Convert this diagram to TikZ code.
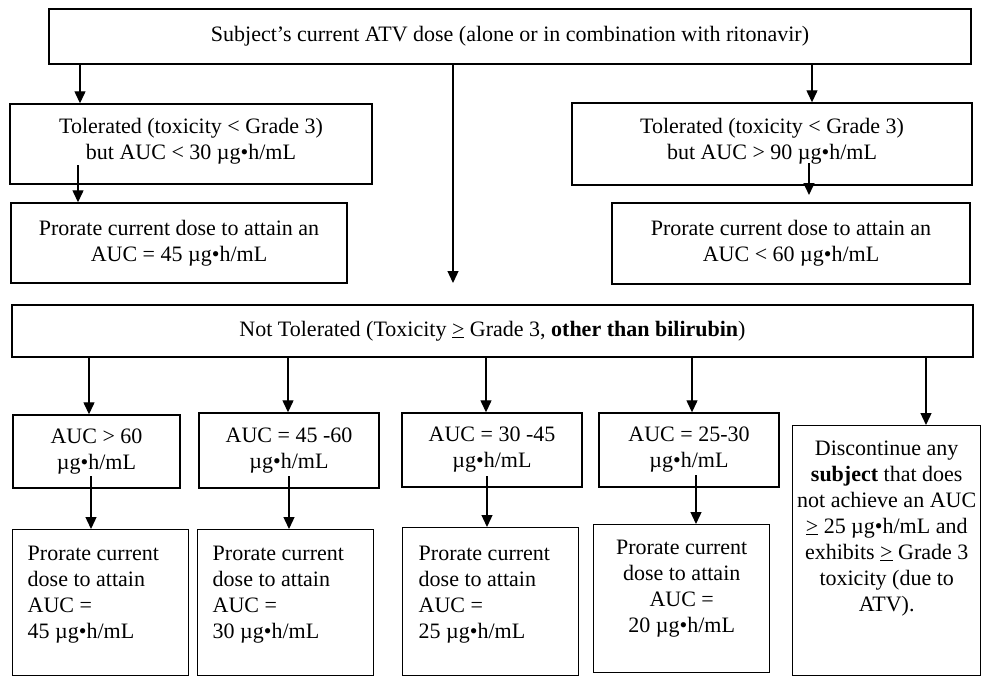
\documentclass[tikz,border=0pt]{standalone}
\usepackage{fontspec}
\setmainfont{Liberation Serif}
\usetikzlibrary{arrows.meta}
\newcommand\myfs{\fontsize{22}{26}\selectfont}
\begin{document}
\begin{tikzpicture}[x=1pt,y=-1pt,
  box/.style={draw, line width=1.4pt, inner sep=0pt, align=center, font=\myfs},
  pbox/.style={draw, line width=1.4pt, inner sep=0pt, font=\myfs, anchor=north west},
  arr/.style={line width=1.3pt, -{Triangle[length=12pt,width=11pt]}},
]
\useasboundingbox[fill=white] (0,0) rectangle (985,677);

% boxes
\node[box, minimum width=922pt, minimum height=55pt] (top) at (510,36.5)
  {Subject’s current ATV dose (alone or in combination with ritonavir)};
\node[box, minimum width=362pt, minimum height=80pt, text depth=10pt] (tolL) at (191,144)
  {Tolerated (toxicity < Grade 3)\\but AUC < 30 µg•h/mL};
\node[box, minimum width=400pt, minimum height=82pt, text depth=10pt] (tolR) at (772,144)
  {Tolerated (toxicity < Grade 3)\\but AUC > 90 µg•h/mL};
\node[box, minimum width=336pt, minimum height=80pt] (proL) at (179,243)
  {Prorate current dose to attain an\\AUC = 45 µg•h/mL};
\node[box, minimum width=358pt, minimum height=81pt] (proR) at (791,243.5)
  {Prorate current dose to attain an\\AUC < 60 µg•h/mL};
\node[box, minimum width=961pt, minimum height=52pt] (nt) at (492.5,331)
  {Not Tolerated (Toxicity \underline{>} Grade 3, \textbf{other than bilirubin})};

\node[box, minimum width=167pt, minimum height=73pt] (a1) at (96.5,451.5) {AUC > 60\\µg•h/mL};
\node[box, minimum width=180pt, minimum height=75pt] (a2) at (289,450.5) {AUC = 45 -60\\µg•h/mL};
\node[box, minimum width=180pt, minimum height=74pt] (a3) at (492,450) {AUC = 30 -45\\µg•h/mL};
\node[box, minimum width=180pt, minimum height=74pt] (a4) at (689,450) {AUC = 25-30\\µg•h/mL};

\node[pbox] (p1) at (12,529) {\parbox[c][146pt][t]{176pt}{\raggedright\leftskip=15pt
  \vspace*{16pt}Prorate current\\dose to attain\\AUC =\\45 µg•h/mL}};
\node[pbox] (p2) at (197,529) {\parbox[c][146pt][t]{176pt}{\raggedright\leftskip=15pt
  \vspace*{16pt}Prorate current\\dose to attain\\AUC =\\30 µg•h/mL}};
\node[pbox] (p3) at (402,527) {\parbox[c][148pt][t]{176pt}{\raggedright\leftskip=16pt
  \vspace*{18pt}Prorate current\\dose to attain\\AUC =\\25 µg•h/mL}};
\node[pbox] (p4) at (593,524) {\parbox[c][148pt][t]{176pt}{\centering
  \vspace*{15pt}Prorate current\\dose to attain\\AUC =\\20 µg•h/mL}};
\node[pbox] (disc) at (792,425) {\parbox[c][250pt][t]{188pt}{\centering
  \vspace*{15pt}Discontinue any\\\textbf{subject} that does\\not achieve an AUC\\\underline{>} 25 µg•h/mL and\\exhibits \underline{>} Grade 3\\toxicity (due to\\ATV).}};

% coordinates for connectors
\coordinate (xa) at (80,0);
\coordinate (xb) at (812,0);
\coordinate (midend) at (453,283);
\coordinate (sc) at (78,165);
\coordinate (sd) at (809,163);
\coordinate (ed) at (809,195);
\coordinate (n1) at (89,0);
\coordinate (n2) at (288,0);
\coordinate (n3) at (486,0);
\coordinate (n4) at (692,0);
\coordinate (n5) at (926,0);
\coordinate (d1) at (91,476);
\coordinate (d2) at (289,476);
\coordinate (d3) at (487,476);
\coordinate (d4) at (696,475);

% connectors
\draw[arr] (top.south -| xa) -- (tolL.north -| xa);
\draw[arr] (top.south -| xb) -- (tolR.north -| xb);
\draw[arr] (top.south -| midend) -- (midend);
\draw[arr] (sc) -- (proL.north -| sc);
\draw[arr] (sd) -- (ed);
\draw[arr] (nt.south -| n1) -- (a1.north -| n1);
\draw[arr] (nt.south -| n2) -- (a2.north -| n2);
\draw[arr] (nt.south -| n3) -- (a3.north -| n3);
\draw[arr] (nt.south -| n4) -- (a4.north -| n4);
\draw[arr] (nt.south -| n5) -- (disc.north -| n5);
\draw[arr] (d1) -- (p1.north -| d1);
\draw[arr] (d2) -- (p2.north -| d2);
\draw[arr] (d3) -- (p3.north -| d3);
\draw[arr] (d4) -- (p4.north -| d4);
\end{tikzpicture}
\end{document}
